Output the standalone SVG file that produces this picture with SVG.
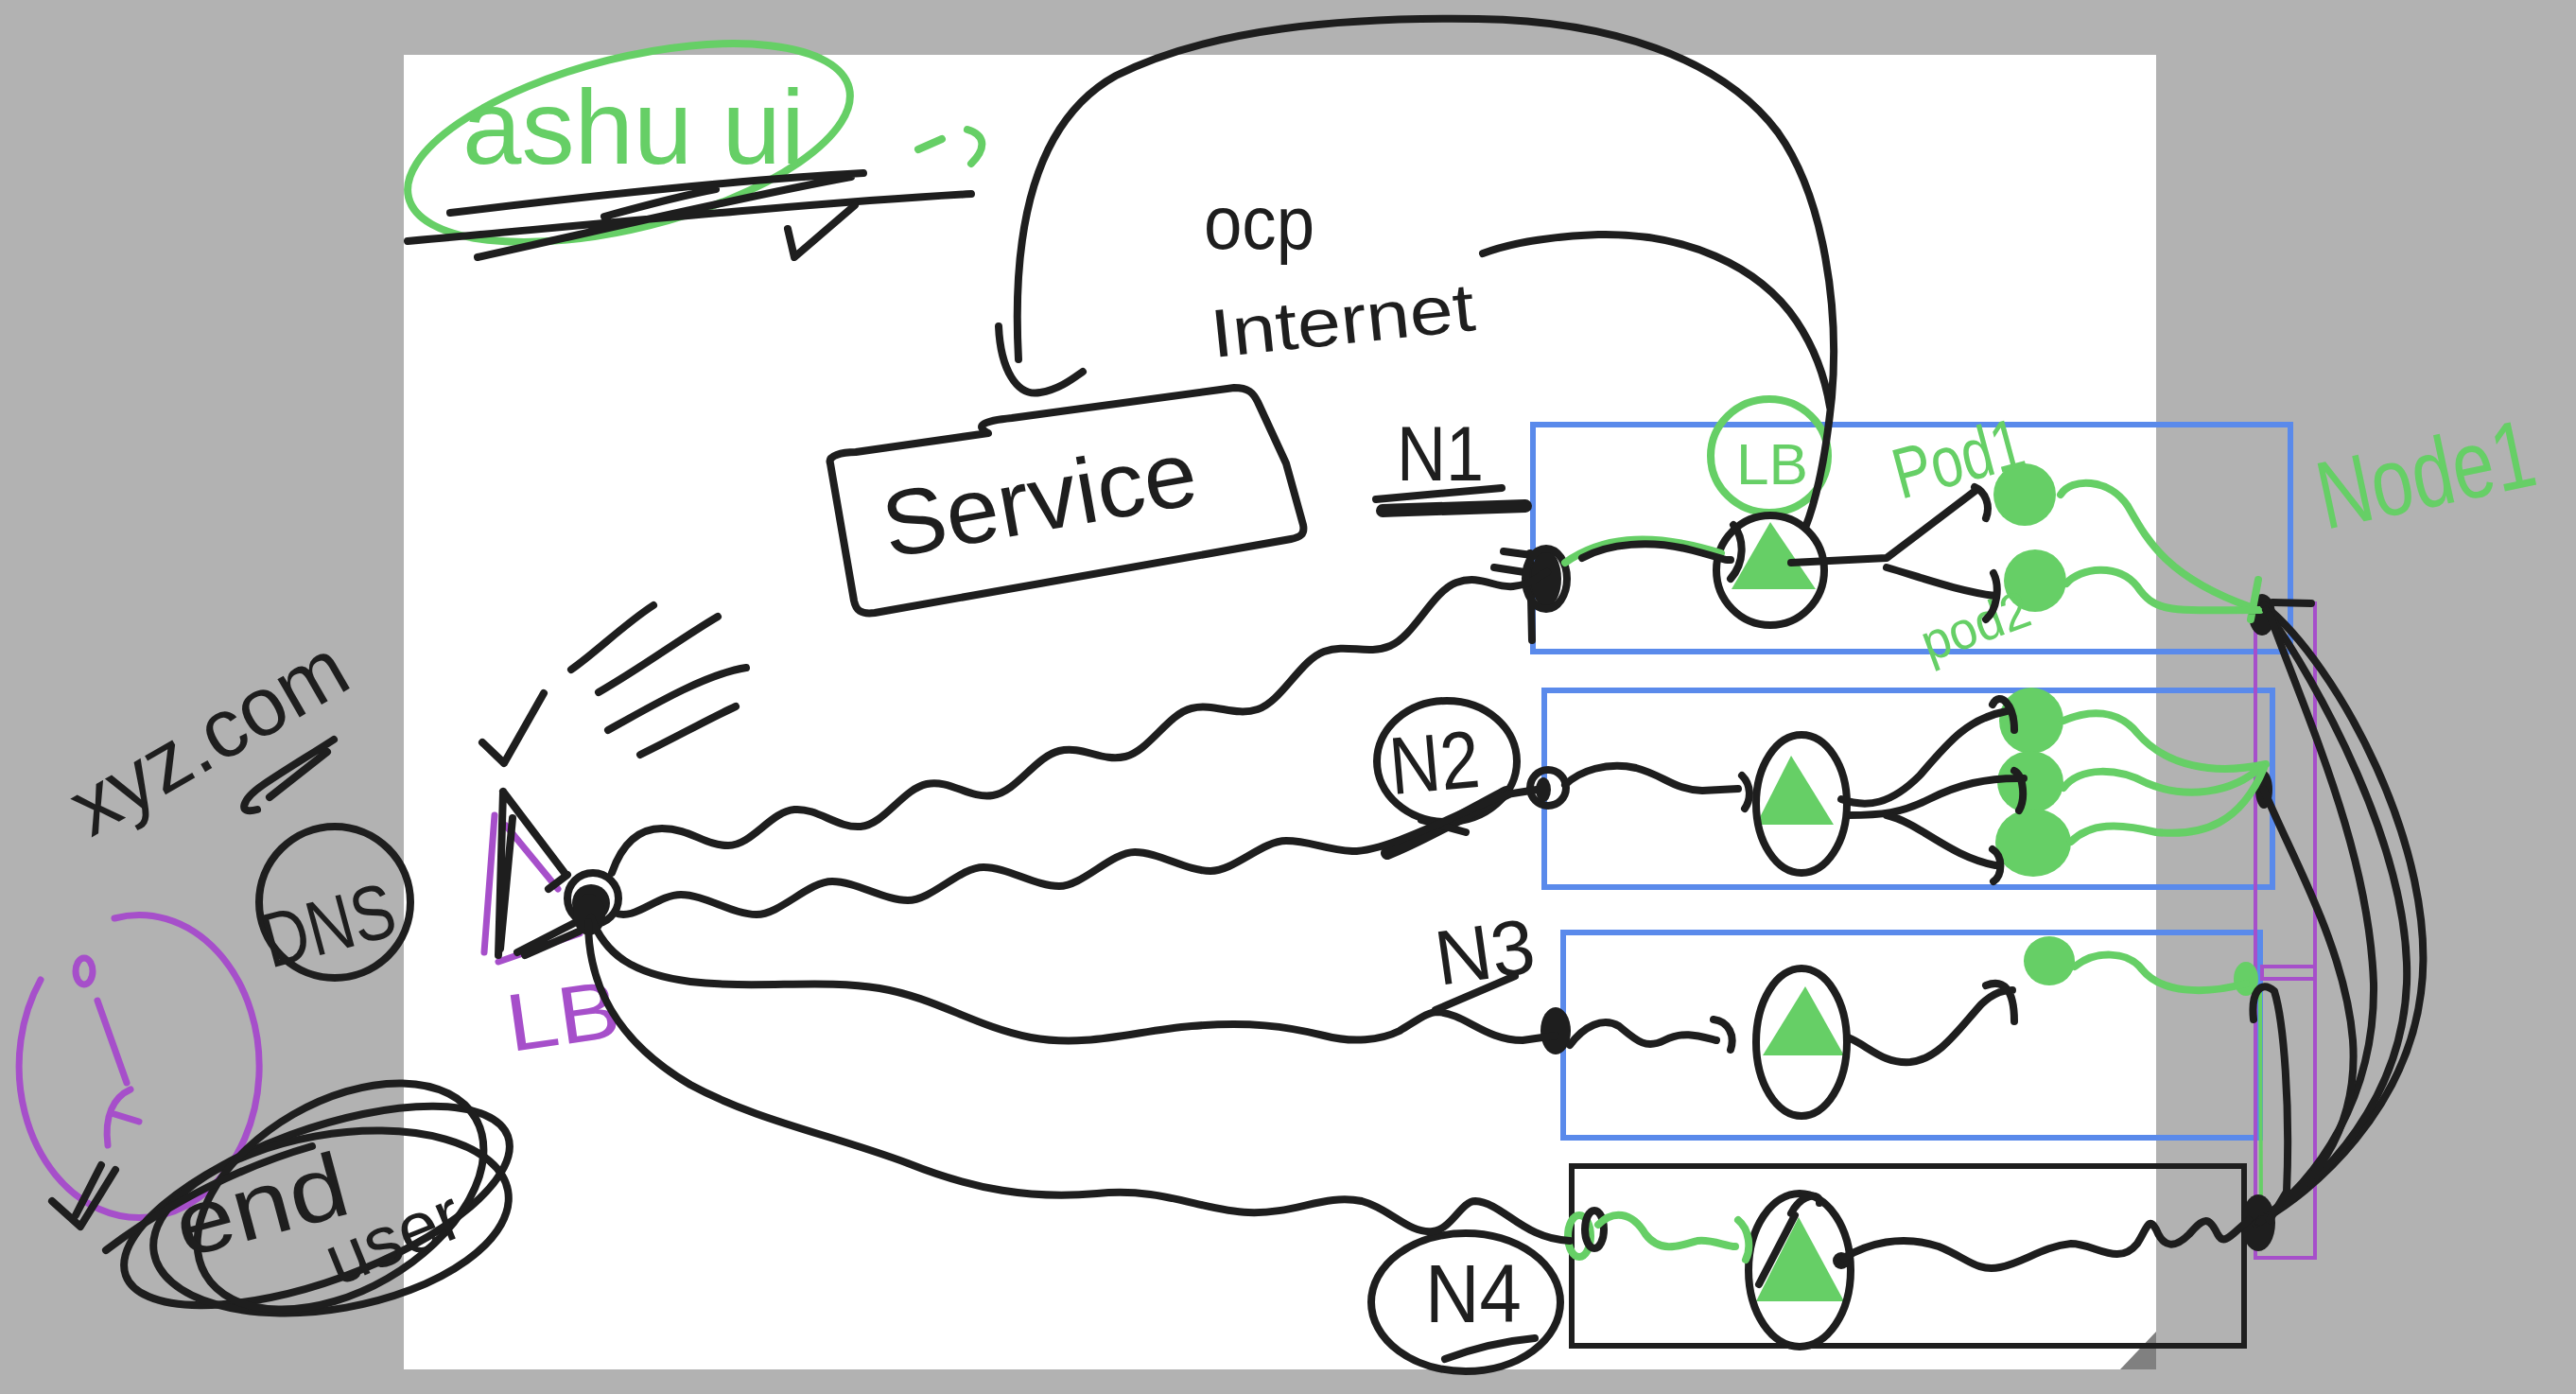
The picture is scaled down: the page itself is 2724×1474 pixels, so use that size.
<svg xmlns="http://www.w3.org/2000/svg" width="2724" height="1474" viewBox="0 0 2724 1474">
<defs>
<style>
.k{fill:none;stroke:#1e1e1e;stroke-width:8;stroke-linecap:round;stroke-linejoin:round}
.kw{fill:none;stroke:#1e1e1e;stroke-width:14;stroke-linecap:round;stroke-linejoin:round}
.g{fill:none;stroke:#66cf66;stroke-width:8;stroke-linecap:round;stroke-linejoin:round}
.p{fill:none;stroke:#a64fca;stroke-width:7;stroke-linecap:round;stroke-linejoin:round}
.bx{fill:none;stroke:#5a8aeb;stroke-width:6}
.kb{fill:none;stroke:#1e1e1e;stroke-width:6}
.pr{fill:none;stroke:#a64fca;stroke-width:4}
.kf{fill:#1e1e1e}
.gf{fill:#66cf66}
.t{font-family:"Liberation Sans",Arial,sans-serif}
.tk{fill:#1e1e1e}
.tg{fill:#66cf66}
.tp{fill:#a64fca}
</style>
</defs>
<rect width="2724" height="1474" fill="#b2b2b2"/>
<rect x="427" y="58" width="1853" height="1390" fill="#ffffff"/>
<polygon points="2242,1448 2280,1408 2280,1448" fill="#808080"/>

<g id="title">
<ellipse class="g" cx="665" cy="151" rx="240" ry="90" transform="rotate(-14 665 151)"/>
<text class="t tg" x="489" y="173" font-size="112" textLength="362" lengthAdjust="spacingAndGlyphs">ashu ui</text>
<path class="k" d="M476,225 C600,210 780,190 913,183 M431,255 C600,240 850,215 1027,205 M505,272 C650,240 800,205 900,187 M639,229 C690,215 730,205 757,200"/>
<path class="k" d="M833,242 L840,272 L904,217"/>
<path class="g" d="M971,158 L996,147 M1023,137 C1040,142 1045,155 1027,173"/>
</g>

<g id="ocp-internet">
<text class="t tk" x="1273" y="263" font-size="80" textLength="117" lengthAdjust="spacingAndGlyphs">ocp</text>
<text class="t tk" x="1283" y="378" font-size="72" textLength="280" lengthAdjust="spacingAndGlyphs" transform="rotate(-6 1283 378)">Internet</text>
</g>

<g id="service">
<path class="k" d="M878,490 C875,482 890,478 905,478 L1045,458 C1030,450 1040,445 1070,442 L1305,410 C1320,410 1325,415 1330,425 L1360,490 L1378,555 C1380,565 1375,568 1365,570 L925,648 C910,650 905,645 903,635 Z"/>
<text class="t tk" x="940" y="590" font-size="98" textLength="335" lengthAdjust="spacingAndGlyphs" transform="rotate(-10 940 590)">Service</text>
</g>

<g id="lb-main">
<path class="p" d="M523,862 L512,1007 M535,873 L590,940 M527,1017 L613,987"/>
<path class="k" d="M532,837 L527,1010 M542,865 L529,1003 M532,837 L597,923 M547,1007 L615,972 M555,1010 L612,985 M580,940 L600,925"/>
<circle cx="627" cy="950" r="27" class="k" stroke-width="7"/>
<circle cx="625" cy="955" r="20" class="kf"/>
<ellipse cx="623" cy="967" rx="17" ry="22" class="kf"/>
<path class="k" d="M510,785 L533,807 L575,733"/>
<path class="k" d="M604,708 C630,690 660,660 691,640 M633,732 C680,705 720,675 759,652 M643,772 C700,740 750,712 789,706 M677,798 C710,782 750,760 778,747"/>
<text class="t tp" x="540" y="1112" font-size="86" textLength="120" lengthAdjust="spacingAndGlyphs" transform="rotate(-8 540 1112)">LB</text>
</g>

<g id="xyz">
<text class="t tk" x="96" y="886" font-size="88" textLength="322" lengthAdjust="spacingAndGlyphs" transform="rotate(-30 96 886)">xyz.com</text>
<path class="k" d="M272,856 C250,862 256,845 278,830 C300,815 330,797 353,782 M285,843 L346,795"/>
</g>

<g id="dns">
<circle class="k" cx="354" cy="954" r="80"/>
<text class="t tk" x="286" y="1024" font-size="82" textLength="142" lengthAdjust="spacingAndGlyphs" transform="rotate(-15 286 1024)">DNS</text>
</g>

<g id="end-user">
<path class="p" d="M43,1036 A127 160 0 1 0 121,971"/>
<ellipse class="p" cx="89" cy="1027" rx="9" ry="14"/>
<path class="p" d="M103,1058 L134,1145 M138,1152 C120,1160 110,1180 114,1211 M121,1178 L147,1186"/>
<path class="k" d="M55,1270 L85,1297 L122,1237 M107,1232 L80,1285"/>
<ellipse class="k" cx="335" cy="1275" rx="215" ry="80" transform="rotate(-20 335 1275)"/>
<ellipse class="k" cx="350" cy="1292" rx="190" ry="92" transform="rotate(-10 350 1292)"/>
<ellipse class="k" cx="360" cy="1265" rx="165" ry="100" transform="rotate(-30 360 1265)"/>
<path class="k" d="M112,1322 C180,1270 260,1232 330,1212"/>
<text class="t tk" x="195" y="1330" font-size="96" textLength="185" lengthAdjust="spacingAndGlyphs" transform="rotate(-15 195 1330)">end</text>
<text class="t tk" x="357" y="1360" font-size="76" textLength="148" lengthAdjust="spacingAndGlyphs" transform="rotate(-22 357 1360)">user</text>
</g>

<g id="node1">
<rect class="bx" x="1621" y="449" width="801" height="240"/>
<ellipse class="g" cx="1871" cy="482" rx="62" ry="60"/>
<text class="t tg" x="1836" y="512" font-size="62" textLength="76" lengthAdjust="spacingAndGlyphs">LB</text>
<polygon class="gf" points="1872,552 1831,623 1920,623"/>
<ellipse class="k" cx="1872" cy="603" rx="57" ry="58"/>
<ellipse class="gf" cx="2141" cy="523" rx="33" ry="33"/>
<ellipse class="gf" cx="2152" cy="614" rx="33" ry="33"/>
<text class="t tg" x="2010" y="528" font-size="76" textLength="140" lengthAdjust="spacingAndGlyphs" transform="rotate(-15 2010 528)">Pod1</text>
<text class="t tg" x="2040" y="700" font-size="56" textLength="118" lengthAdjust="spacingAndGlyphs" transform="rotate(-20 2040 700)">pod2</text>
<path class="k" d="M1580,600 L1625,607 M1590,583 L1627,588 M1618,585 L1620,677"/>
<ellipse class="kf" cx="1635" cy="612" rx="16" ry="30"/>
<ellipse class="k" cx="1635" cy="612" rx="22" ry="32" stroke-width="6"/>
<text class="t tk" x="1477" y="508" font-size="82" textLength="92" lengthAdjust="spacingAndGlyphs">N1</text>
<path class="k" d="M1455,528 L1588,516"/>
<path class="kw" d="M1462,540 C1520,538 1580,536 1613,535"/>
</g>

<g id="node2">
<rect class="bx" x="1633" y="730" width="770" height="208"/>
<polygon class="gf" points="1894,799 1857,872 1939,872"/>
<ellipse class="k" cx="1905" cy="850" rx="48" ry="73"/>
<ellipse class="gf" cx="2148" cy="762" rx="34" ry="35"/>
<ellipse class="gf" cx="2147" cy="827" rx="35" ry="33"/>
<ellipse class="gf" cx="2150" cy="891" rx="40" ry="36"/>
<ellipse class="k" cx="1530" cy="805" rx="74" ry="64"/>
<text class="t tk" x="1472" y="840" font-size="86" textLength="95" lengthAdjust="spacingAndGlyphs" transform="rotate(-5 1472 840)">N2</text>
<path class="kw" d="M1467,902 C1510,885 1560,855 1593,838"/>
<path class="k" d="M1503,867 L1550,880"/>
<circle class="k" cx="1637" cy="833" r="19" stroke-width="6"/>
<ellipse class="kf" cx="1632" cy="835" rx="8" ry="13"/>
</g>

<g id="node3">
<rect class="bx" x="1653" y="986" width="737" height="217"/>
<polygon class="gf" points="1909,1043 1864,1116 1950,1116"/>
<ellipse class="k" cx="1905" cy="1102" rx="48" ry="78"/>
<ellipse class="gf" cx="2167" cy="1016" rx="27" ry="26"/>
<text class="t tk" x="1522" y="1042" font-size="82" textLength="105" lengthAdjust="spacingAndGlyphs" transform="rotate(-8 1522 1042)">N3</text>
<path class="k" d="M1518,1068 L1602,1032"/>
<ellipse class="kf" cx="1645" cy="1090" rx="16" ry="25"/>
</g>

<g id="node4">
<rect class="kb" x="1662" y="1233" width="711" height="190"/>
<polygon class="gf" points="1902,1287 1857,1376 1950,1376"/>
<ellipse class="k" cx="1903" cy="1343" rx="54" ry="81"/>
<path class="k" d="M1898,1285 L1860,1358 M1894,1283 C1905,1262 1925,1260 1924,1272"/>
<circle class="kf" cx="1947" cy="1333" r="9"/>
<ellipse class="k" cx="1550" cy="1377" rx="100" ry="73"/>
<text class="t tk" x="1507" y="1398" font-size="88" textLength="102" lengthAdjust="spacingAndGlyphs">N4</text>
<path class="k" d="M1528,1437 C1560,1425 1590,1418 1623,1415"/>
<ellipse class="g" cx="1670" cy="1307" rx="12" ry="22"/>
<ellipse class="k" cx="1686" cy="1300" rx="10" ry="20" stroke-width="6"/>
</g>

<g id="node-merge">
<rect class="pr" x="2385" y="638" width="63" height="692"/>
<rect class="pr" x="2392" y="1022" width="56" height="13"/>
<path d="M2390,1045 L2391,1280" stroke="#66cf66" stroke-width="4" fill="none"/>
<text class="t tg" x="2459" y="560" font-size="102" textLength="232" lengthAdjust="spacingAndGlyphs" transform="rotate(-12 2459 560)">Node1</text>
<ellipse class="kf" cx="2392" cy="650" rx="14" ry="22"/>
<path class="k" d="M2403,637 L2444,638"/>
<ellipse class="kf" cx="2394" cy="835" rx="9" ry="20"/>
<ellipse class="gf" cx="2375" cy="1035" rx="13" ry="18"/>
<ellipse class="kf" cx="2388" cy="1293" rx="18" ry="30"/>
</g>

<g id="connectors">
<path class="k" d="M647,923 C655,900 670,876 700,876 S745,894 770,894 S815,858 840,856 S885,876 910,874 S955,834 980,829 S1025,845 1050,841 S1095,800 1120,794 S1165,806 1190,800 S1235,755 1260,749 S1305,758 1330,750 S1375,698 1400,689 S1445,693 1470,683 S1515,625 1540,616 S1580,622 1600,620 S1625,610 1636,605"/>
<path class="k" d="M650,965 C670,975 695,946 720,946 S775,967 800,967 S855,932 880,932 S935,952 960,952 S1015,917 1040,917 S1095,937 1120,937 S1175,901 1200,901 S1255,921 1280,921 S1335,889 1360,889 S1400,898 1430,900 C1470,900 1540,860 1593,840 L1625,835"/>
<path class="k" d="M625,970 C640,1010 670,1030 730,1038 C800,1046 870,1035 930,1045 C990,1055 1030,1085 1090,1097 C1150,1108 1200,1090 1260,1085 C1320,1080 1360,1085 1400,1095 C1430,1103 1460,1100 1480,1090 C1500,1078 1510,1070 1520,1070 C1550,1072 1570,1100 1610,1100 L1645,1095"/>
<path class="k" d="M622,975 C622,1040 650,1100 730,1147 C800,1185 880,1200 960,1230 C1030,1258 1090,1268 1160,1262 C1230,1255 1270,1280 1320,1282 C1370,1284 1400,1262 1440,1270 C1470,1278 1490,1305 1515,1302 C1535,1300 1545,1270 1560,1270 C1590,1272 1610,1310 1660,1312"/>
<path class="k" d="M1077,380 C1070,250 1090,130 1180,80 C1280,30 1420,18 1563,20 C1700,22 1820,60 1880,140 C1930,210 1945,330 1937,420 C1930,490 1920,530 1909,558"/>
<path class="k" d="M1056,345 C1058,390 1075,420 1100,415 C1120,412 1135,400 1145,393"/>
<path class="k" d="M1568,268 C1600,256 1640,250 1690,248 C1780,246 1860,280 1900,340 C1920,370 1930,400 1935,430"/>
<path class="g" d="M1655,595 C1690,570 1740,560 1820,585"/>
<path class="k" d="M1673,590 C1700,575 1745,570 1790,582 S1820,592 1830,592 M1833,555 C1845,570 1845,595 1830,612"/>
<path class="k" d="M1894,595 L1995,590 L2090,518 M2088,515 C2100,520 2105,535 2100,548 M1995,600 C2030,610 2070,625 2110,630 M2108,606 C2115,620 2112,645 2100,655"/>
<path class="k" d="M1655,830 C1670,815 1700,805 1730,812 C1760,820 1770,835 1800,836 L1838,834 M1842,820 C1852,830 1852,845 1845,855"/>
<path class="k" d="M1947,845 C1975,855 2000,850 2030,820 C2060,785 2080,760 2122,752 M2107,745 C2115,730 2130,745 2130,772"/>
<path class="k" d="M1954,862 C1990,862 2010,860 2040,845 C2070,830 2100,822 2140,823 M2130,815 C2140,820 2142,845 2135,857"/>
<path class="k" d="M1995,862 C2030,870 2060,905 2110,915 M2107,898 C2118,905 2118,925 2108,932"/>
<path class="k" d="M1660,1105 C1675,1085 1695,1075 1712,1085 C1730,1100 1740,1110 1760,1100 C1780,1090 1795,1095 1815,1100 M1812,1078 C1828,1080 1835,1095 1830,1110"/>
<path class="k" d="M1954,1097 C1975,1105 1990,1125 2020,1123 C2050,1120 2070,1090 2095,1062 C2110,1048 2120,1047 2128,1047 M2100,1042 C2118,1035 2130,1045 2130,1080"/>
<path class="g" d="M1690,1295 C1705,1280 1725,1280 1740,1305 C1755,1325 1775,1318 1795,1312 C1810,1310 1825,1318 1835,1318 M1838,1290 C1850,1300 1852,1320 1846,1332"/>
<path class="k" d="M1950,1330 C1975,1315 2010,1305 2050,1318 C2080,1330 2090,1345 2115,1340 C2140,1335 2160,1318 2190,1315 C2215,1315 2240,1340 2260,1315 C2270,1300 2272,1285 2280,1300 C2288,1320 2300,1320 2315,1305 C2330,1288 2335,1285 2345,1305 C2352,1318 2360,1305 2378,1290"/>
<path class="g" d="M2179,523 C2190,505 2230,505 2250,535 C2270,570 2290,610 2380,642"/>
<path class="g" d="M2185,617 C2200,600 2240,595 2260,620 C2280,650 2300,645 2390,645 M2388,613 L2380,655"/>
<path class="g" d="M2182,762 C2210,750 2240,750 2260,775 C2290,810 2340,820 2396,808"/>
<path class="g" d="M2182,833 C2200,810 2240,812 2270,828 C2310,845 2360,840 2392,810"/>
<path class="g" d="M2190,890 C2210,870 2240,870 2280,880 C2330,885 2370,870 2394,812"/>
<path class="g" d="M2194,1022 C2215,1005 2250,1005 2265,1025 C2285,1050 2330,1052 2375,1040"/>
<path class="k" d="M2394,640 C2470,700 2580,900 2560,1050 C2545,1170 2450,1260 2385,1294"/>
<path class="k" d="M2396,645 C2450,720 2550,900 2545,1040 C2540,1160 2460,1250 2388,1292"/>
<path class="k" d="M2400,650 C2440,760 2505,900 2510,1040 C2512,1160 2450,1250 2390,1290"/>
<path class="k" d="M2394,835 C2420,900 2480,1000 2488,1100 C2495,1200 2440,1260 2390,1292"/>
<path class="k" d="M2383,1078 C2380,1050 2390,1035 2405,1048 C2415,1080 2422,1170 2418,1260 L2400,1290"/>
</g>
</svg>
